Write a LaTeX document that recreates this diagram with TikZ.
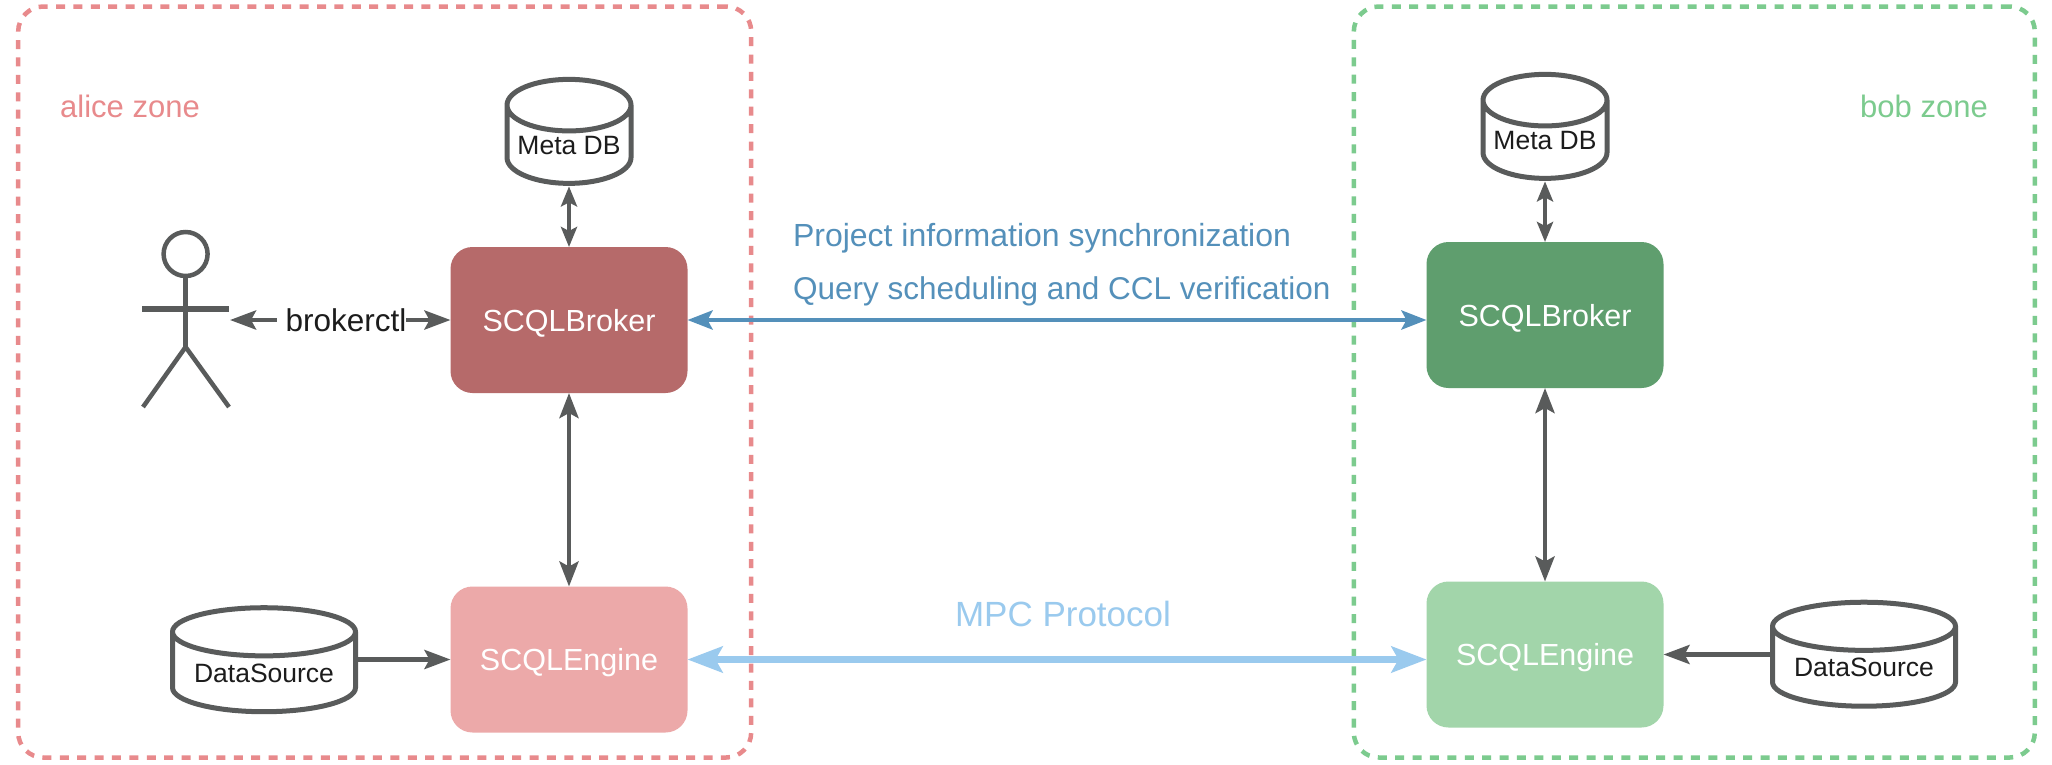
\documentclass[tikz,border=0pt]{standalone}
\usepackage{fontspec}
\setmainfont{Liberation Sans}
\usetikzlibrary{arrows.meta,shapes.geometric}
\definecolor{linegray}{HTML}{595B5B}
\definecolor{alicezone}{HTML}{E88A8C}
\definecolor{bobzone}{HTML}{7CCB8E}
\definecolor{alicebroker}{HTML}{B66A6A}
\definecolor{aliceengine}{HTML}{ECA9A9}
\definecolor{bobbroker}{HTML}{5F9E6E}
\definecolor{bobengine}{HTML}{A2D5AA}
\definecolor{syncblue}{HTML}{5490BA}
\definecolor{mpcblue}{HTML}{9ACAEE}
\definecolor{txtdark}{HTML}{1C1C1C}
\tikzset{
  x=1pt,y=-1pt,
  zonebox/.style={draw,line width=4.5pt,dash pattern=on 9pt off 8.4pt,rounded corners=25pt,inner sep=0pt,outer sep=0pt,minimum width=#1},
  svcbox/.style={rounded corners=22pt,text=white,inner sep=0pt,outer sep=0pt,minimum width=237pt,minimum height=146pt,text height=22pt,text depth=0pt,font=\fontsize{30.5}{36}\selectfont},
  store/.style={cylinder,shape border rotate=90,draw=linegray,fill=white,line width=5pt,inner sep=0pt,outer sep=0pt,text=txtdark,font=\fontsize{26.5}{32}\selectfont},
  conn/.style={draw=linegray,line width=4.5pt},
  biS/.style={conn,line width=4pt,{Stealth[length=20pt,width=16pt,inset=4pt]}-{Stealth[length=20pt,width=16pt,inset=4pt]}},
  biL/.style={conn,{Stealth[length=25pt,width=19pt,inset=5pt]}-{Stealth[length=25pt,width=19pt,inset=5pt]}},
  oneL/.style={conn,-{Stealth[length=26pt,width=19pt,inset=5pt]}},
  lbl/.style={inner sep=0pt,outer sep=0pt},
  stick/.style={draw=linegray,line width=4.5pt}
}
\begin{document}
\begin{tikzpicture}
\useasboundingbox (0,0) rectangle (2052,764);
\fill[white] (0,0) rectangle (2052,764);
% zones
\node[zonebox=733pt,minimum height=751pt,draw=alicezone] (az) at (384.7,382) {};
\node[zonebox=681pt,minimum height=751pt,draw=bobzone] (bz) at (1694.3,382) {};
\node[lbl,text=alicezone,font=\fontsize{31}{36}\selectfont] (azl) at (130,106) {alice zone};
\node[lbl,text=bobzone,font=\fontsize{31}{36}\selectfont] (bzl) at (1924,106) {bob zone};
% services
\node[svcbox,fill=alicebroker] (ab) at (569,320) {SCQLBroker};
\node[svcbox,fill=aliceengine] (ae) at (569,659.5) {SCQLEngine};
\node[svcbox,fill=bobbroker] (bb) at (1545,315) {SCQLBroker};
\node[svcbox,fill=bobengine] (be) at (1545,654.5) {SCQLEngine};
% stores
\node[store,minimum width=124pt,minimum height=104pt,aspect=0.5] (am) at (569,145.5) {Meta DB};
\node[store,minimum width=124pt,minimum height=104pt,aspect=0.5] (bm) at (1545,140.5) {Meta DB};
\node[store,minimum width=183pt,minimum height=104pt,aspect=0.344] (ad) at (264,673) {DataSource};
\node[store,minimum width=183pt,minimum height=104pt,aspect=0.344] (bd) at (1864,667.5) {DataSource};
% actor
\node[circle,draw=linegray,line width=4.5pt,minimum size=44pt,inner sep=0pt,outer sep=0pt,fill=white] (head) at (185.6,254) {};
\coordinate (hip) at (185.6,347);
\coordinate (armL) at (142,309);
\coordinate (armR) at (229,309);
\coordinate (legL) at (143,407);
\coordinate (legR) at (229,407);
\draw[stick] (head.south) -- (hip);
\draw[stick,line width=5.5pt] (armL) -- (armR);
\draw[stick] (legL) -- (hip) -- (legR);
\coordinate (actorR) at (230,320);
% brokerctl
\node[lbl,text=txtdark,font=\fontsize{31.5}{36}\selectfont] (ctl) at (346,320) {brokerctl};
\draw[oneL] (ctl.west) ++(-9,0) -- (actorR);
\draw[oneL] (ctl.east) -- (ab.west);
% vertical
\draw[biS] (am.south) ++(0,3) -- (ab.north);
\draw[biS] (bm.south) ++(0,3) -- (bb.north);
\draw[biL] (ab.south) -- (ae.north);
\draw[biL] (bb.south) -- (be.north);
\draw[oneL] (ad.east |- ae.west) -- (ae.west);
\draw[oneL] (bd.west |- be.east) -- (be.east);
% cross
\draw[line width=4.5pt,draw=syncblue,{Stealth[length=25pt,width=19pt,inset=5pt]}-{Stealth[length=25pt,width=19pt,inset=5pt]}] (ab.east) -- (ab.east -| bb.west);
\draw[line width=6.5pt,draw=mpcblue,{Stealth[length=35pt,width=26pt,inset=7pt]}-{Stealth[length=35pt,width=26pt,inset=7pt]}] (ae.east) -- (ae.east -| be.west);
\node[lbl,anchor=west,text=syncblue,font=\fontsize{32}{36}\selectfont] (p1) at (793,238) {Project information synchronization};
\node[lbl,anchor=west,text=syncblue,font=\fontsize{31.5}{36}\selectfont] (p2) at (793,291) {Query scheduling and CCL verification};
\node[lbl,text=mpcblue,font=\fontsize{35}{40}\selectfont] (mpc) at (1063,614) {MPC Protocol};
\end{tikzpicture}
\end{document}
